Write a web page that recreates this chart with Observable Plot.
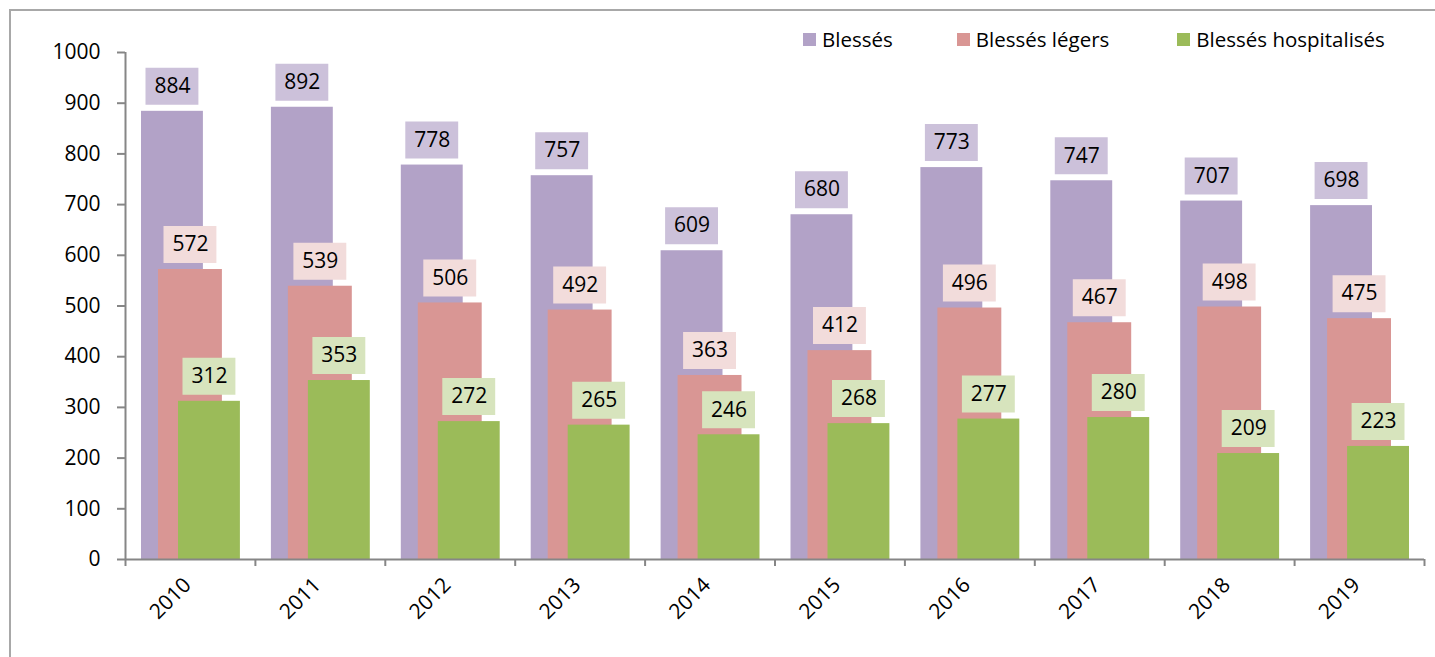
<!DOCTYPE html>
<html>
<head>
<meta charset="utf-8">
<script src="https://cdn.jsdelivr.net/npm/d3@7"></script>
<script src="https://cdn.jsdelivr.net/npm/@observablehq/plot@0.6"></script>
<style>
  body { margin: 0; background: #fff; font-family: "Open Sans", sans-serif; }
  #wrap { position: relative; width: 1435px; height: 657px; overflow: hidden; }
  #border { position: absolute; left: 9px; top: 9px; width: 1450px; height: 670px;
            border-left: 2px solid #a8a8a8; border-top: 2px solid #a8a8a8; box-sizing: border-box; }
  #chart { position: absolute; left: 0; top: 0; }
  #legend { position: absolute; left: 803px; top: 29px; display: flex; align-items: center;
            font-size: 20.5px; line-height: 20px; color: #000; }
  .item { display: flex; align-items: center; }
  .sw { width: 13px; height: 13px; margin-right: 6px; }
</style>
</head>
<body>
<div id="wrap">
  <div id="border"></div>
  <div id="chart"></div>
  <div id="legend"></div>
</div>
<script>
const years = ["2010","2011","2012","2013","2014","2015","2016","2017","2018","2019"];
const seriesNames = ["Blessés", "Blessés légers", "Blessés hospitalisés"];
const blesses = [884, 892, 778, 757, 609, 680, 773, 747, 707, 698];
const legers = [572, 539, 506, 492, 363, 412, 496, 467, 498, 475];
const hospitalises = [312, 353, 272, 265, 246, 268, 277, 280, 209, 223];
const yTicks = [0, 100, 200, 300, 400, 500, 600, 700, 800, 900, 1000];

const barColors = ["#b2a2c7", "#d99694", "#9bbb59"];
const boxColors = ["#ccc1da", "#f2dcdb", "#d7e4bd"];
// per-series bar placement inside each year's slot (pixels)
const barInsets = [[16, 52], [33, 33], [53, 15]];
const labelDx = [-18, 0, 19];
const boxInsets = [[20.5, 56.5], [38.5, 38.5], [57.5, 19.5]];

const valuesBySeries = [blesses, legers, hospitalises];
const tables = valuesBySeries.map(vals => years.map((y, i) => ({year: y, i, v: vals[i]})));

const axisGray = "#868686";
const marks = [];
tables.forEach((t, s) => {
  marks.push(Plot.rect(t, {
    x1: d => d.i - 0.5, x2: d => d.i + 0.5, y1: 0, y2: d => d.v,
    insetLeft: barInsets[s][0], insetRight: barInsets[s][1],
    fill: barColors[s]
  }));
});
tables.forEach((t, s) => {
  marks.push(Plot.ruleY(t, {
    x1: d => d.i - 0.5, x2: d => d.i + 0.5, y: d => d.v, dy: -25,
    insetLeft: boxInsets[s][0], insetRight: boxInsets[s][1],
    stroke: boxColors[s], strokeWidth: 37
  }));
  marks.push(Plot.text(t, {
    x: d => d.i, y: d => d.v, text: d => String(d.v), dy: -25, dx: labelDx[s],
    fill: "#000", fontSize: 21
  }));
});
// axis lines
marks.push(Plot.ruleX([-0.5], {stroke: axisGray, strokeWidth: 2, y1: 0, y2: 1000}));
marks.push(Plot.ruleY([0], {stroke: axisGray, strokeWidth: 2, x1: -0.5, x2: years.length - 0.5}));
marks.push(Plot.axisY({ticks: yTicks, tickSize: 8, tickPadding: 17, stroke: axisGray, strokeWidth: 2,
  tickFormat: d => String(d), fontSize: 21, fill: "#000", label: null}));
marks.push(Plot.axisX({ticks: d3.range(years.length + 1).map(i => i - 0.5), tickSize: 7,
  tickFormat: () => "", stroke: axisGray, strokeWidth: 2, label: null}));
marks.push(Plot.axisX({ticks: d3.range(years.length), tickSize: 0, tickPadding: 22, tickRotate: -45,
  tickFormat: i => years[i], fontSize: 21, fill: "#000", dx: -3, label: null}));

const chart = Plot.plot({
  width: 1435, height: 657,
  marginLeft: 125, marginRight: 11, marginTop: 52, marginBottom: 98,
  x: {type: "linear", domain: [-0.5, years.length - 0.5], axis: null},
  y: {domain: [0, 1000], axis: null},
  style: {fontFamily: "Open Sans", fontSize: "21px", color: "#000", background: "transparent", overflow: "visible"},
  marks
});
document.getElementById("chart").append(chart);

const legend = document.getElementById("legend");
const gaps = [64, 68, 0];
seriesNames.forEach((name, s) => {
  const item = document.createElement("div");
  item.className = "item";
  item.style.marginRight = gaps[s] + "px";
  const sw = document.createElement("div");
  sw.className = "sw";
  sw.style.background = barColors[s];
  const tx = document.createElement("span");
  tx.textContent = name;
  item.append(sw, tx);
  legend.append(item);
});
</script>
</body>
</html>
